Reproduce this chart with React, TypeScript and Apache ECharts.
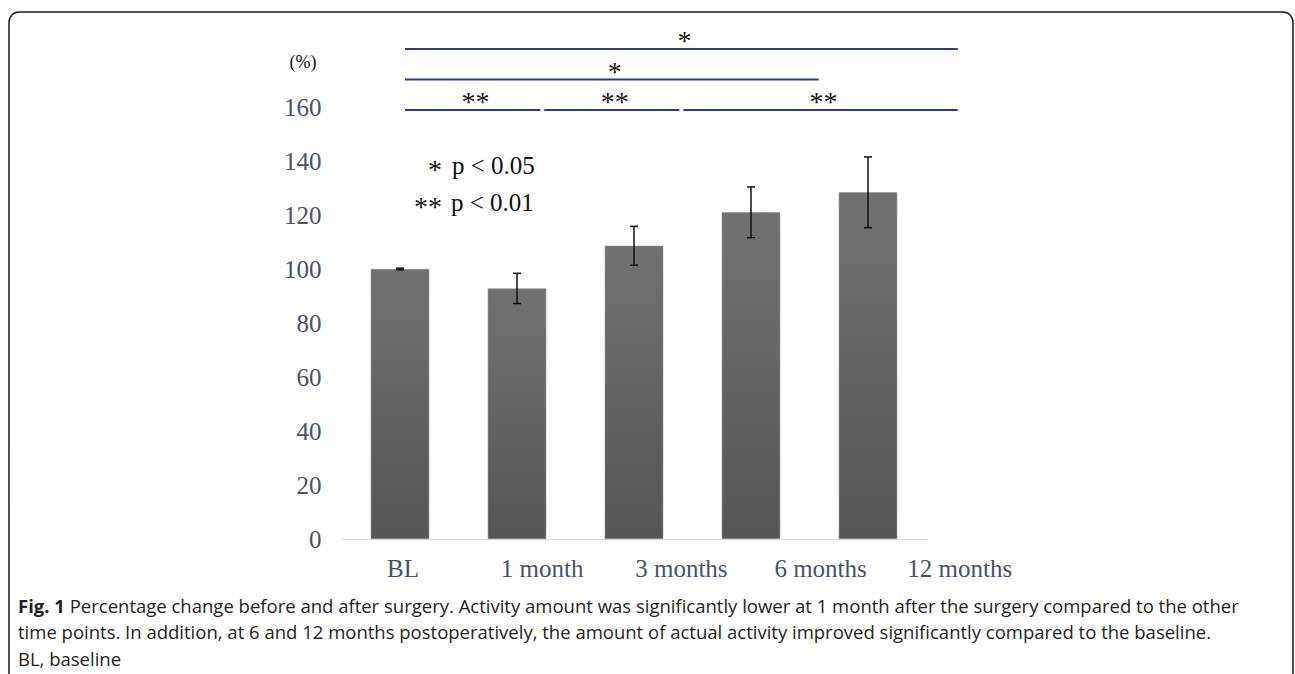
import React, { useEffect, useRef } from "react";
import * as echarts from "echarts";

const categories = ["BL", "1 month", "3 months", "6 months", "12 months"];
const means = [100, 92.8, 108.6, 121, 128.4];
const errors = [0.3, 5.6, 7.2, 9.4, 13.1];
const yMin = 0;
const yMax = 160;
const yInterval = 20;
// [fromIndex, toIndex, marker, level]
const comparisons: [number, number, string, number][] = [
  [0, 4, "*", 2],
  [0, 3, "*", 1],
  [0, 1, "**", 0],
  [1, 2, "**", 0],
  [2, 4, "**", 0],
];
const legendLines = [
  ["*", "p < 0.05"],
  ["**", "p < 0.01"],
];
const captionLines = [
  "Percentage change before and after surgery. Activity amount was significantly lower at 1 month after the surgery compared to the other",
  "time points. In addition, at 6 and 12 months postoperatively, the amount of actual activity improved significantly compared to the baseline.",
  "BL, baseline",
];

const SERIF = "'Liberation Serif', 'Times New Roman', serif";
const SANS = "'Open Sans', 'Noto Sans', sans-serif";
const AXIS_COLOR = "#44546a";
const SIG_COLOR = "#2b3a8a";

export default function App() {
  const ref = useRef<HTMLDivElement>(null);

  useEffect(() => {
    if (!ref.current) return;
    const chart = echarts.init(ref.current, undefined, { renderer: "svg" });

    const bracketBase = 158.9;
    const bracketStep = 11.3;

    const errData = categories.map((_, i) => [i, means[i] - errors[i], means[i] + errors[i]]);
    const bracketData = comparisons.map((c) => [c[0], c[1], bracketBase + c[3] * bracketStep]);

    const gridTop = 107;
    const gridBottom = 135;

    const option: any = {
      animation: false,
      backgroundColor: "#ffffff",
      grid: [
        { left: 341.5, width: 585, top: gridTop, bottom: gridBottom },
        { left: 333.4, width: 696, top: gridTop, bottom: gridBottom },
      ],
      xAxis: [
        {
          type: "category",
          gridIndex: 0,
          data: categories,
          axisLabel: { show: false },
          axisTick: { show: false },
          axisLine: { show: true, lineStyle: { color: "#d6dce5", width: 1 } },
        },
        {
          type: "category",
          gridIndex: 1,
          data: categories,
          axisTick: { show: false },
          axisLine: { show: false },
          axisLabel: {
            show: true,
            margin: 17,
            fontFamily: SERIF,
            fontSize: 25,
            color: AXIS_COLOR,
          },
        },
      ],
      yAxis: [
        {
          type: "value",
          gridIndex: 0,
          min: yMin,
          max: yMax,
          interval: yInterval,
          splitLine: { show: false },
          axisLine: { show: false },
          axisTick: { show: false },
          axisLabel: {
            margin: 20,
            fontFamily: SERIF,
            fontSize: 25,
            color: AXIS_COLOR,
          },
          name: "(%)",
          nameLocation: "end",
          nameGap: 45,
          nameTextStyle: {
            fontFamily: SERIF,
            fontSize: 18,
            color: "#111",
            align: "right",
            verticalAlign: "middle",
            padding: [0, 25, 0, 0],
          },
        },
        {
          type: "value",
          gridIndex: 1,
          min: yMin,
          max: yMax,
          show: false,
        },
      ],
      series: [
        {
          type: "bar",
          xAxisIndex: 0,
          yAxisIndex: 0,
          data: means,
          barWidth: "50%",
          itemStyle: {
            color: new echarts.graphic.LinearGradient(0, 0, 0, 1, [
              { offset: 0, color: "#717171" },
              { offset: 1, color: "#555555" },
            ]),
            borderColor: "#8a8a8a",
            borderWidth: 0.6,
          },
        },
        {
          type: "custom",
          xAxisIndex: 0,
          yAxisIndex: 0,
          data: errData,
          encode: { x: 0, y: [1, 2] },
          z: 5,
          renderItem: (params: any, api: any) => {
            const x = api.value(0);
            const lo = api.coord([x, api.value(1)]);
            const hi = api.coord([x, api.value(2)]);
            const w = 4;
            const st = { stroke: "#111", lineWidth: 1.5 };
            return {
              type: "group",
              children: [
                { type: "line", shape: { x1: hi[0], y1: hi[1], x2: lo[0], y2: lo[1] }, style: st },
                { type: "line", shape: { x1: hi[0] - w, y1: hi[1], x2: hi[0] + w, y2: hi[1] }, style: st },
                { type: "line", shape: { x1: lo[0] - w, y1: lo[1], x2: lo[0] + w, y2: lo[1] }, style: st },
              ],
            };
          },
        },
        {
          type: "custom",
          xAxisIndex: 1,
          yAxisIndex: 1,
          clip: false,
          data: bracketData,
          encode: { x: [0, 1], y: 2 },
          z: 5,
          renderItem: (params: any, api: any) => {
            const p1 = api.coord([api.value(0), api.value(2)]);
            const p2 = api.coord([api.value(1), api.value(2)]);
            const label = comparisons[params.dataIndex][2];
            return {
              type: "group",
              children: [
                {
                  type: "line",
                  shape: { x1: p1[0] + 2, y1: p1[1], x2: p2[0] - 2, y2: p2[1] },
                  style: { stroke: SIG_COLOR, lineWidth: 2 },
                },
                {
                  type: "text",
                  x: (p1[0] + p2[0]) / 2 + 3,
                  y: p1[1] - 8,
                  style: {
                    text: label,
                    fontFamily: SERIF,
                    fontSize: 28,
                    fill: "#111",
                    align: "center",
                    verticalAlign: "middle",
                  },
                },
              ],
            };
          },
        },
      ],
      graphic: [
        {
          type: "rect",
          shape: { x: 9, y: 12, width: 1284, height: 720, r: 10 },
          style: { fill: "none", stroke: "#1a1a1a", lineWidth: 1.5 },
          silent: true,
          z: -10,
        },
        {
          type: "text",
          x: 442,
          y: 169,
          style: { text: legendLines[0][0], fontFamily: SERIF, fontSize: 28, fill: "#111", align: "right", verticalAlign: "middle" },
        },
        {
          type: "text",
          x: 452,
          y: 165,
          style: { text: legendLines[0][1], fontFamily: SERIF, fontSize: 25, fill: "#111", align: "left", verticalAlign: "middle" },
        },
        {
          type: "text",
          x: 442,
          y: 206,
          style: { text: legendLines[1][0], fontFamily: SERIF, fontSize: 28, fill: "#111", align: "right", verticalAlign: "middle" },
        },
        {
          type: "text",
          x: 451,
          y: 202,
          style: { text: legendLines[1][1], fontFamily: SERIF, fontSize: 25, fill: "#111", align: "left", verticalAlign: "middle" },
        },
        ...captionLines.map((line, i) => ({
          type: "text",
          x: 18,
          y: 605 + i * 26.5,
          style: {
            text: i === 0 ? "{b|Fig. 1} " + line : line,
            fontFamily: SANS,
            fontSize: 18.5,
            fill: "#231f20",
            align: "left",
            verticalAlign: "middle",
            rich: {
              b: { fontFamily: SANS, fontSize: 18.5, fontWeight: "bold", fill: "#231f20" },
            },
          },
        })),
      ],
    };

    chart.setOption(option);
    return () => chart.dispose();
  }, []);

  return (
    <div
      ref={ref}
      style={{ position: "fixed", left: 0, top: 0, width: 1295, height: 674, background: "#fff" }}
    />
  );
}
